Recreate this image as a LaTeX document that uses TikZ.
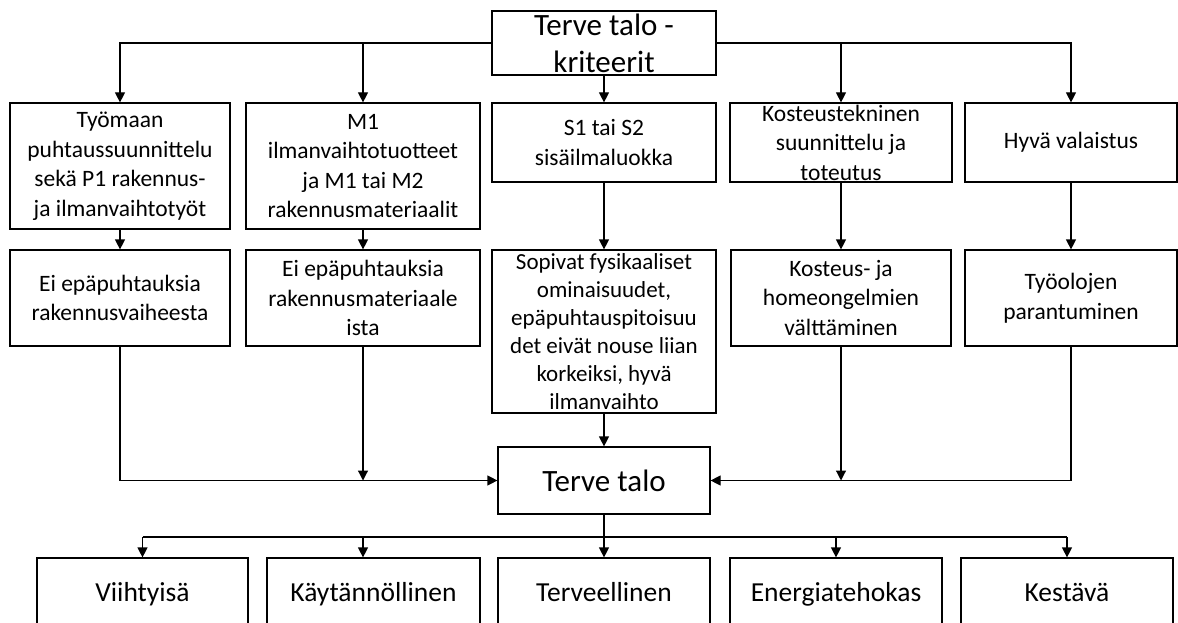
\documentclass[tikz,border=0pt]{standalone}
\usepackage{fontspec}
\setmainfont{Carlito}
\usetikzlibrary{arrows.meta}

\begin{document}
\begin{tikzpicture}[x=1pt, y=-1pt, line width=1.2pt,
  box/.style={draw, inner sep=0pt},
  txt/.style={align=center, font=\fontsize{23.5}{29.5}\selectfont},
  big/.style={align=center, font=\fontsize{31}{37}\selectfont},
  mid/.style={align=center, font=\fontsize{27.5}{33}\selectfont, text height=0.72em, text depth=0.22em},
  arr/.style={-{Triangle[length=10pt,width=10pt]}}]
  \useasboundingbox (0,0) rectangle (1178,623);

  \node[box, minimum width=224pt, minimum height=64pt, label={[big]center:Terve talo -\\kriteerit}] (top) at (604,43) {};

  \node[box, minimum width=220pt, minimum height=126pt, label={[txt]center:Työmaan\\puhtaussuunnittelu\\sekä P1 rakennus-\\ja ilmanvaihtotyöt}] (b1) at (120,166) {};
  \node[box, minimum width=234pt, minimum height=126pt, label={[txt]center:M1\\ilmanvaihtotuotteet\\ja M1 tai M2\\rakennusmateriaalit}] (b2) at (363,166) {};
  \node[box, minimum width=224pt, minimum height=79pt, label={[txt]center:S1 tai S2\\sisäilmaluokka}] (b3) at (604,142.5) {};
  \node[box, minimum width=222pt, minimum height=79pt, label={[txt]center:Kosteustekninen\\suunnittelu ja\\toteutus}] (b4) at (841,142.5) {};
  \node[box, minimum width=212pt, minimum height=79pt, label={[txt]center:Hyvä valaistus}] (b5) at (1071,142.5) {};

  \node[box, minimum width=220pt, minimum height=96pt, label={[txt]center:Ei epäpuhtauksia\\rakennusvaiheesta}] (b6) at (120,298) {};
  \node[box, minimum width=234pt, minimum height=96pt, label={[txt]center:Ei epäpuhtauksia\\rakennusmateriaale\\ista}] (b7) at (363,298) {};
  \node[box, minimum width=224pt, minimum height=163pt, label={[txt, font=\fontsize{23}{28}\selectfont]center:{Sopivat fysikaaliset\\ominaisuudet,\\epäpuhtauspitoisuu\\det eivät nouse liian\\korkeiksi, hyvä\\ilmanvaihto}}] (b8) at (604,331.5) {};
  \node[box, minimum width=220pt, minimum height=96pt, label={[txt]center:Kosteus- ja\\homeongelmien\\välttäminen}] (b9) at (841,298) {};
  \node[box, minimum width=212pt, minimum height=96pt, label={[txt]center:Työolojen\\parantuminen}] (b10) at (1071,298) {};

  \node[box, minimum width=212pt, minimum height=67pt, label={[big]center:Terve talo}] (talo) at (604,480.5) {};

  \node[box, minimum width=211pt, minimum height=82pt, label={[mid]center:Viihtyisä}] (c1) at (142.5,599) {};
  \node[box, minimum width=213pt, minimum height=82pt, label={[mid]center:Käytännöllinen}] (c2) at (373.5,599) {};
  \node[box, minimum width=212pt, minimum height=82pt, label={[mid]center:Terveellinen}] (c3) at (604,599) {};
  \node[box, minimum width=212pt, minimum height=82pt, label={[mid]center:Energiatehokas}] (c4) at (836,599) {};
  \node[box, minimum width=212pt, minimum height=82pt, label={[mid]center:Kestävä}] (c5) at (1067,599) {};

  \draw[arr] (top.west) -| (b1.north);
  \draw[arr] (b2.north |- top.west) -- (b2.north);
  \draw[arr] (top.south) -- (b3.north);
  \draw[arr] (b4.north |- top.east) -- (b4.north);
  \draw[arr] (top.east) -| (b5.north);

  \foreach \a/\b in {b1/b6, b2/b7, b3/b8, b4/b9, b5/b10}
    \draw[arr] (\a.south) -- (\b.north);

  \draw[arr] (b6.south) |- (talo.west);
  \draw[arr] (b7.south) -- (b7.south |- talo.west);
  \draw[arr] (b8.south) -- (talo.north);
  \draw[arr] (b9.south) -- (b9.south |- talo.east);
  \draw[arr] (b10.south) |- (talo.east);

  \coordinate (bus) at (604,537);
  \draw[arr] (talo.south) -- (c3.north);
  \draw (c1.north |- bus) -- (c5.north |- bus);
  \foreach \c in {c1, c4, c5}
    \draw[arr] (\c.north |- bus) -- (\c.north);
  \draw[arr] ([xshift=-10.5pt]c2.north |- bus) -- ([xshift=-10.5pt]c2.north);
\end{tikzpicture}
\end{document}
